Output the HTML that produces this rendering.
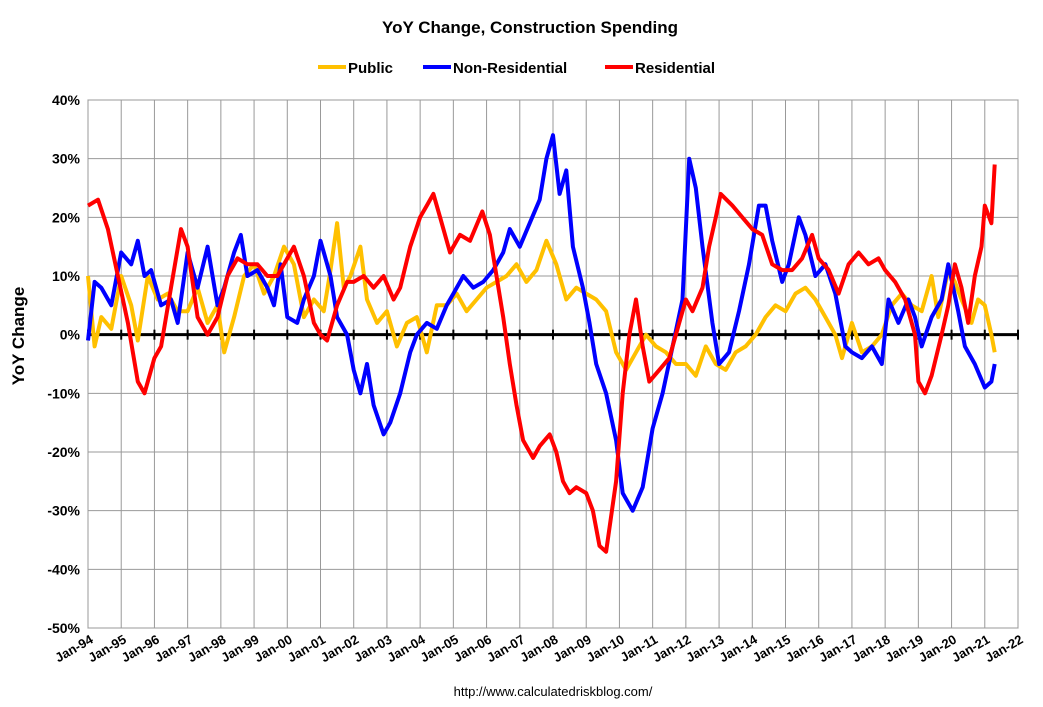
<!DOCTYPE html>
<html><head><meta charset="utf-8"><style>
body{margin:0;background:#fff;font-family:"Liberation Sans",Arial,sans-serif}
svg{display:block}
</style></head><body>
<svg id="chart" width="1043" height="707" xmlns="http://www.w3.org/2000/svg">
<text x="530" y="33" text-anchor="middle" font-weight="bold" font-size="17" font-family="Liberation Sans, sans-serif">YoY Change,  Construction Spending</text>
<g font-weight="bold" font-size="15" font-family="Liberation Sans, sans-serif">
<line x1="318" y1="67" x2="346" y2="67" stroke="#FFC000" stroke-width="4"/>
<text x="348" y="73">Public</text>
<line x1="423" y1="67" x2="451" y2="67" stroke="#0000FF" stroke-width="4"/>
<text x="453" y="73">Non-Residential</text>
<line x1="605" y1="67" x2="633" y2="67" stroke="#FF0000" stroke-width="4"/>
<text x="635" y="73">Residential</text>
</g>
<text transform="translate(24,336) rotate(-90)" text-anchor="middle" font-weight="bold" font-size="17" font-family="Liberation Sans, sans-serif">YoY Change</text>
<text x="553" y="696" text-anchor="middle" font-size="13" font-family="Liberation Sans, sans-serif">http://www.calculatedriskblog.com/</text>
<g id="plot"></g>
</svg>
<script>
const yTicks=[40,30,20,10,0,-10,-20,-30,-40,-50];
const xYears=[];for(let y=1994;y<=2022;y++)xYears.push(y);
const resT=[1994.0,1994.3,1994.6,1994.9,1995.2,1995.5,1995.7,1996.0,1996.2,1996.5,1996.8,1997.0,1997.3,1997.6,1997.9,1998.2,1998.5,1998.8,1999.1,1999.4,1999.7,2000.0,2000.2,2000.5,2000.8,2001.0,2001.2,2001.5,2001.8,2002.0,2002.3,2002.6,2002.9,2003.2,2003.4,2003.7,2004.0,2004.2,2004.4,2004.6,2004.9,2005.2,2005.5,2005.87,2006.1,2006.3,2006.5,2006.7,2006.9,2007.1,2007.4,2007.6,2007.9,2008.1,2008.3,2008.5,2008.7,2009.0,2009.2,2009.4,2009.6,2009.9,2010.1,2010.3,2010.5,2010.7,2010.9,2011.2,2011.5,2011.8,2012.0,2012.2,2012.5,2012.7,2012.9,2013.05,2013.4,2013.7,2014.0,2014.3,2014.6,2014.9,2015.2,2015.5,2015.8,2016.0,2016.3,2016.6,2016.9,2017.2,2017.5,2017.8,2018.0,2018.3,2018.6,2018.9,2019.0,2019.2,2019.4,2019.7,2019.9,2020.1,2020.3,2020.5,2020.7,2020.9,2021.0,2021.2,2021.3];
const resV=[22,23,18,10,2,-8,-10,-4,-2,8,18,15,3,0,3,10,13,12,12,10,10,13,15,10,2,0,-1,5,9,9,10,8,10,6,8,15,20,22,24,20,14,17,16,21,17,10,3,-5,-12,-18,-21,-19,-17,-20,-25,-27,-26,-27,-30,-36,-37,-25,-10,0,6,-2,-8,-6,-4,2,6,4,8,15,20,24,22,20,18,17,12,11,11,13,17,13,11,7,12,14,12,13,11,9,6,0,-8,-10,-7,0,5,12,8,2,10,15,22,19,29];
const nonT=[1994.0,1994.2,1994.4,1994.7,1995.0,1995.3,1995.5,1995.7,1995.9,1996.2,1996.5,1996.7,1997.0,1997.3,1997.6,1997.9,1998.1,1998.4,1998.6,1998.8,1999.1,1999.4,1999.6,1999.8,2000.0,2000.3,2000.5,2000.8,2001.0,2001.3,2001.5,2001.8,2002.0,2002.2,2002.4,2002.6,2002.9,2003.1,2003.4,2003.7,2003.9,2004.2,2004.5,2004.8,2005.0,2005.3,2005.6,2005.9,2006.2,2006.5,2006.7,2007.0,2007.3,2007.6,2007.8,2008.0,2008.2,2008.4,2008.6,2008.9,2009.1,2009.3,2009.6,2009.9,2010.1,2010.4,2010.7,2011.0,2011.3,2011.6,2011.9,2012.1,2012.3,2012.5,2012.8,2013.0,2013.3,2013.6,2013.9,2014.2,2014.4,2014.6,2014.9,2015.1,2015.4,2015.6,2015.9,2016.2,2016.5,2016.8,2017.0,2017.3,2017.6,2017.9,2018.1,2018.4,2018.7,2018.9,2019.1,2019.4,2019.7,2019.9,2020.2,2020.4,2020.7,2021.0,2021.2,2021.3];
const nonV=[-1,9,8,5,14,12,16,10,11,5,6,2,14,8,15,5,8,14,17,10,11,8,5,12,3,2,6,10,16,10,3,0,-6,-10,-5,-12,-17,-15,-10,-3,0,2,1,5,7,10,8,9,11,14,18,15,19,23,30,34,24,28,15,8,2,-5,-10,-18,-27,-30,-26,-16,-10,-2,6,30,25,15,2,-5,-3,4,12,22,22,16,9,12,20,17,10,12,7,-2,-3,-4,-2,-5,6,2,6,3,-2,3,6,12,4,-2,-5,-9,-8,-5];
const pubT=[1994.0,1994.2,1994.4,1994.7,1995.0,1995.3,1995.5,1995.8,1996.1,1996.4,1996.7,1997.0,1997.3,1997.6,1997.9,1998.1,1998.4,1998.7,1999.0,1999.3,1999.6,1999.9,2000.2,2000.5,2000.8,2001.1,2001.3,2001.5,2001.7,2001.9,2002.2,2002.4,2002.7,2003.0,2003.3,2003.6,2003.9,2004.2,2004.5,2004.8,2005.1,2005.4,2005.7,2006.0,2006.3,2006.6,2006.9,2007.2,2007.5,2007.8,2008.1,2008.4,2008.7,2009.0,2009.3,2009.6,2009.9,2010.2,2010.5,2010.8,2011.1,2011.4,2011.7,2012.0,2012.3,2012.6,2012.9,2013.2,2013.5,2013.8,2014.1,2014.4,2014.7,2015.0,2015.3,2015.6,2015.9,2016.2,2016.5,2016.7,2017.0,2017.3,2017.6,2017.9,2018.2,2018.5,2018.8,2019.1,2019.4,2019.6,2019.9,2020.1,2020.3,2020.6,2020.8,2021.0,2021.2,2021.3];
const pubV=[10,-2,3,1,10,5,-1,10,6,7,4,4,8,2,5,-3,3,10,12,7,10,15,12,3,6,4,11,19,8,10,15,6,2,4,-2,2,3,-3,5,5,7,4,6,8,9,10,12,9,11,16,12,6,8,7,6,4,-3,-6,-3,0,-2,-3,-5,-5,-7,-2,-5,-6,-3,-2,0,3,5,4,7,8,6,3,0,-4,2,-3,-2,0,5,7,5,4,10,3,11,9,6,2,6,5,0,-3];

const NS="http://www.w3.org/2000/svg";
const L=88,R=1018,T=100,B=628;
const xs=y=>L+(y-1994)/(2022-1994)*(R-L);
const ys=v=>T+(40-v)/90*(B-T);
const g=document.getElementById('plot');
function mk(tag,attrs){const e=document.createElementNS(NS,tag);for(const k in attrs)e.setAttribute(k,attrs[k]);g.appendChild(e);return e;}
const bg=mk('rect',{x:L,y:T,width:R-L,height:B-T,fill:'#fff',stroke:'#888','stroke-width':1});


yTicks.forEach(v=>{
  const ln=mk('line',{x1:L,x2:R,y1:ys(v),y2:ys(v),stroke:'#999','stroke-width':1});
  
  
  const t=mk('text',{x:L-8,y:ys(v)+5,'text-anchor':'end','font-size':14,'font-weight':'bold','font-family':'Liberation Sans, sans-serif'});
  t.textContent=v+'%';
  
  
});
xYears.forEach(y=>{
  const ln=mk('line',{x1:xs(y),x2:xs(y),y1:T,y2:B,stroke:'#999','stroke-width':1});
  
  
  const tk=mk('line',{x1:xs(y),x2:xs(y),y1:ys(0)-5,y2:ys(0)+5,stroke:'#000','stroke-width':2});
  
  
  const t=mk('text',{transform:`translate(${xs(y)+6},${B+14}) rotate(-30)`,'text-anchor':'end','font-size':13,'font-weight':'bold','font-family':'Liberation Sans, sans-serif'});
  t.textContent='Jan-'+String(y%100).padStart(2,'0');
  
  
});
const zl=mk('line',{x1:L,x2:R,y1:ys(0),y2:ys(0),stroke:'#000','stroke-width':3});


function series(T_,V_,col,name){
  const d=T_.map((t,i)=>(i?'L':'M')+xs(t).toFixed(1)+','+ys(V_[i]).toFixed(1)).join('');
  const p=mk('path',{d:d,fill:'none',stroke:col,'stroke-width':4,'stroke-linejoin':'round'});
  
  
}
series(pubT,pubV,'#FFC000','public-line');
series(nonT,nonV,'#0000FF','non-residential-line');
series(resT,resV,'#FF0000','residential-line');
</script>
</body></html>
